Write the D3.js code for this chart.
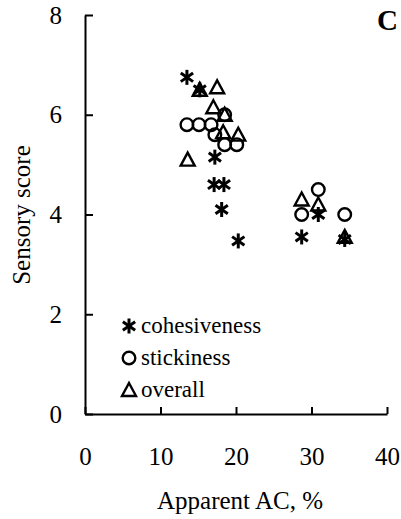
<!DOCTYPE html>
<html>
<head>
<meta charset="utf-8">
<script src="https://cdn.jsdelivr.net/npm/d3@7"></script>
<style>
  body { margin: 0; background: #fff; }
  svg text { font-family: "Liberation Serif", "DejaVu Serif", serif; fill: #000; }
  .axis path, .axis line { stroke: #000; stroke-width: 2; }
</style>
</head>
<body>
<svg id="chart" width="401" height="519"></svg>
<script>
// apparent amylose content, % (x) and sensory scores (y)
var cohesX = [13.5, 15.2, 17.2, 17.1, 18.4, 18.1, 20.3, 28.7, 30.9, 34.4];
var cohesY = [6.75, 6.5, 5.15, 4.6, 4.6, 4.1, 3.47, 3.55, 4.0, 3.5];
var stickX = [13.5, 15.1, 16.7, 18.5, 17.2, 18.5, 20.1, 28.7, 30.9, 34.4];
var stickY = [5.8, 5.8, 5.8, 6.0, 5.6, 5.4, 5.4, 4.0, 4.5, 4.0];
var overX = [13.6, 15.2, 17.5, 17.0, 18.5, 18.3, 20.3, 28.7, 30.9, 34.4];
var overY = [5.1, 6.5, 6.55, 6.15, 6.0, 5.65, 5.6, 4.3, 4.2, 3.55];
var xTicks = [0, 10, 20, 30, 40];
var yTicks = [0, 2, 4, 6, 8];
var legendNames = ["cohesiveness", "stickiness", "overall"];

var svg = d3.select("#chart");

var x = d3.scaleLinear().domain([0, 40]).range([85, 387]);
var y = d3.scaleLinear().domain([0, 8]).range([414, 15]);

// axes, ticks point inward
svg.append("g")
    .attr("class", "axis")
    .attr("transform", "translate(85,0)")
    .call(d3.axisLeft(y).tickValues(yTicks).tickSizeInner(-8).tickSizeOuter(0).tickPadding(23))
    .call(function(g) {
        g.selectAll("text").attr("font-size", 25).style("font-family", "Liberation Serif");
    });

svg.append("g")
    .attr("class", "axis")
    .attr("transform", "translate(0,414)")
    .call(d3.axisBottom(x).tickValues(xTicks).tickSizeInner(-7).tickSizeOuter(0))
    .call(function(g) {
        g.selectAll("text").attr("font-size", 25).attr("y", 51).attr("dy", 0)
            .style("font-family", "Liberation Serif");
    });

// symbols
function drawStar(g, cx, cy) {
    var r = 7.5;
    [90, 35, -35].forEach(function(a) {
        var rad = a * Math.PI / 180;
        g.append("line")
            .attr("x1", cx - r * Math.cos(rad)).attr("y1", cy - r * Math.sin(rad))
            .attr("x2", cx + r * Math.cos(rad)).attr("y2", cy + r * Math.sin(rad))
            .attr("stroke", "#000").attr("stroke-width", 3);
    });
}
function drawCircle(g, cx, cy) {
    g.append("circle").attr("cx", cx).attr("cy", cy).attr("r", 6.3)
        .attr("fill", "none").attr("stroke", "#000").attr("stroke-width", 2.4);
}
function drawTriangle(g, cx, cy) {
    var s = 7;
    g.append("path")
        .attr("d", "M" + cx + "," + (cy - s) + "L" + (cx + s) + "," + (cy + s * 0.85) + "L" + (cx - s) + "," + (cy + s * 0.85) + "Z")
        .attr("fill", "none").attr("stroke", "#000").attr("stroke-width", 2.4).attr("stroke-linejoin", "miter");
}

var marks = svg.append("g");
cohesX.forEach(function(d, i) { drawStar(marks, x(d), y(cohesY[i])); });
stickX.forEach(function(d, i) { drawCircle(marks, x(d), y(stickY[i])); });
overX.forEach(function(d, i) { drawTriangle(marks, x(d), y(overY[i])); });

// legend
var drawers = [drawStar, drawCircle, drawTriangle];
var leg = svg.append("g");
legendNames.forEach(function(name, i) {
    var ly = 326 + i * 32;
    drawers[i](leg, 129, ly);
    leg.append("text").attr("x", 141).attr("y", ly + 7).attr("font-size", 23).text(name);
});

// panel letter
svg.append("text").attr("x", 377).attr("y", 30).attr("font-size", 29)
    .attr("font-weight", "bold").text("C");

// axis titles
svg.append("text")
    .attr("transform", "translate(30,215) rotate(-90)")
    .attr("text-anchor", "middle").attr("font-size", 25)
    .text("Sensory score");

svg.append("text")
    .attr("x", 240).attr("y", 509)
    .attr("text-anchor", "middle").attr("font-size", 25)
    .text("Apparent AC, %");
</script>
</body>
</html>
